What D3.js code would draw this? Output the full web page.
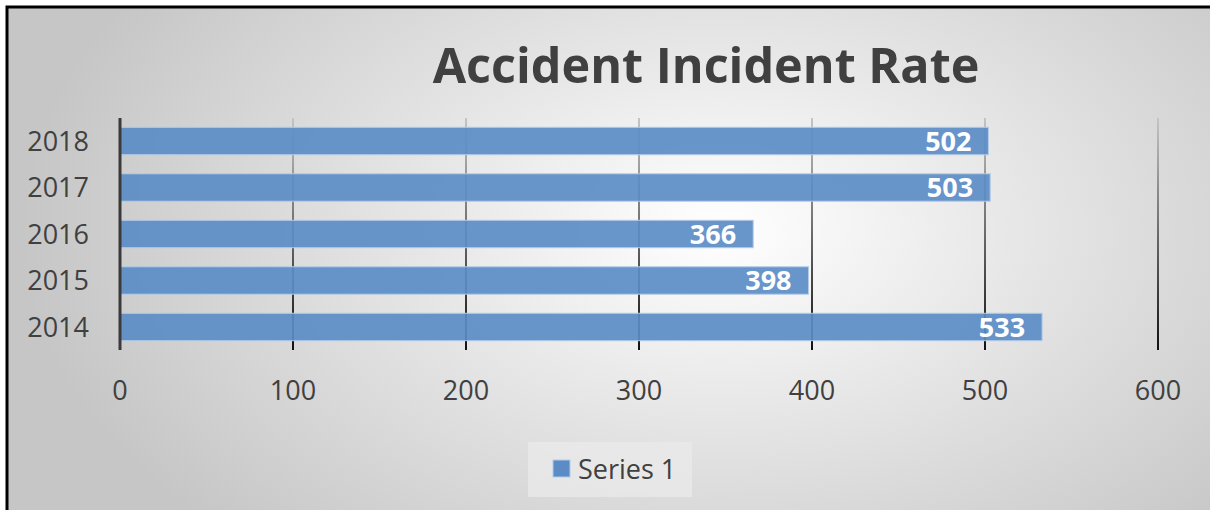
<!DOCTYPE html>
<html>
<head>
<meta charset="utf-8">
<script src="https://cdn.jsdelivr.net/npm/d3@7"></script>
<style>
  body { margin: 0; background: #fff; }
  svg { display: block; }
  text { font-family: "Open Sans", "Noto Sans", sans-serif; }
</style>
</head>
<body>
<div id="chart"></div>
<script>
// chart values
var years = ["2018", "2017", "2016", "2015", "2014"];
var rates = [502, 503, 366, 398, 533];
var ticks = [0, 100, 200, 300, 400, 500, 600];
var seriesName = "Series 1";
var title = "Accident Incident Rate";

var W = 1210, H = 510;
var plot = { left: 120, right: 1158, top: 118, bottom: 350 };

var svg = d3.select("#chart").append("svg")
    .attr("width", W)
    .attr("height", H);

var defs = svg.append("defs");
var bg = defs.append("radialGradient")
    .attr("id", "bg")
    .attr("gradientUnits", "userSpaceOnUse")
    .attr("cx", 0).attr("cy", 0).attr("r", 1)
    .attr("gradientTransform", "translate(720,230) scale(700,430)");
bg.append("stop").attr("offset", "0%").attr("stop-color", "#ffffff");
bg.append("stop").attr("offset", "100%").attr("stop-color", "#c6c6c6");

var grid = defs.append("linearGradient")
    .attr("id", "grid")
    .attr("gradientUnits", "userSpaceOnUse")
    .attr("x1", 0).attr("y1", plot.top).attr("x2", 0).attr("y2", plot.bottom);
grid.append("stop").attr("offset", "0%").attr("stop-color", "#c4c4c4");
grid.append("stop").attr("offset", "100%").attr("stop-color", "#111111");

// background + frame (top/left edge only visible)
svg.append("rect")
    .attr("x", 8).attr("y", 8).attr("width", W).attr("height", H)
    .attr("fill", "url(#bg)");
svg.append("path")
    .attr("d", "M7," + H + "V7H" + W)
    .attr("fill", "none")
    .attr("stroke", "#000")
    .attr("stroke-width", 3);

var x = d3.scaleLinear().domain([0, 600]).range([plot.left, plot.right]);
var y = d3.scaleBand().domain(years).range([plot.top, plot.bottom]).paddingInner(0.41).paddingOuter(0.2);

// gridlines
svg.append("g").selectAll("rect")
    .data(ticks.slice(1))
  .enter().append("rect")
    .attr("x", function(d) { return x(d) - 1; })
    .attr("y", plot.top)
    .attr("width", 2)
    .attr("height", plot.bottom - plot.top)
    .attr("fill", "url(#grid)");

// bars
svg.append("g").selectAll("rect")
    .data(years)
  .enter().append("rect")
    .attr("x", x(0))
    .attr("y", function(d) { return y(d); })
    .attr("width", function(d, i) { return x(rates[i]) - x(0); })
    .attr("height", y.bandwidth())
    .attr("fill", "#5b8cc6")
    .attr("fill-opacity", 0.92)
    .attr("stroke", "#b4cbe8")
    .attr("stroke-width", 1);

// value labels
svg.append("g").selectAll("text")
    .data(years)
  .enter().append("text")
    .attr("x", function(d, i) { return x(rates[i]) - 17; })
    .attr("y", function(d) { return y(d) + y.bandwidth() / 2; })
    .attr("dy", "0.36em")
    .attr("text-anchor", "end")
    .attr("fill", "#fff")
    .attr("font-weight", "bold")
    .attr("font-size", 27)
    .text(function(d, i) { return rates[i]; });

// y axis
svg.append("line")
    .attr("x1", x(0)).attr("x2", x(0))
    .attr("y1", plot.top).attr("y2", plot.bottom)
    .attr("stroke", "#3a3a3a")
    .attr("stroke-width", 3);

svg.append("g").selectAll("text")
    .data(years)
  .enter().append("text")
    .attr("x", 89)
    .attr("y", function(d) { return y(d) + y.bandwidth() / 2; })
    .attr("dy", "0.36em")
    .attr("text-anchor", "end")
    .attr("fill", "#404040")
    .attr("font-size", 27)
    .text(function(d) { return d; });

// x tick labels
svg.append("g").selectAll("text")
    .data(ticks)
  .enter().append("text")
    .attr("x", function(d) { return x(d); })
    .attr("y", 390)
    .attr("dy", "0.36em")
    .attr("text-anchor", "middle")
    .attr("fill", "#404040")
    .attr("font-size", 27)
    .text(function(d) { return d; });

// title, sized to span the same width as the reference
var t = svg.append("text")
    .attr("x", 706)
    .attr("y", 66)
    .attr("dy", "0.36em")
    .attr("text-anchor", "middle")
    .attr("fill", "#404040")
    .attr("font-weight", "bold")
    .attr("font-size", 48)
    .text(title);
var tw = t.node().getComputedTextLength();
t.attr("font-size", 48 * 547 / tw);

// legend
var lg = svg.append("g").attr("transform", "translate(528,442)");
lg.append("rect")
    .attr("width", 164).attr("height", 55)
    .attr("fill", "#ebebeb")
    .attr("fill-opacity", 0.7);
lg.append("rect")
    .attr("x", 25).attr("y", 18).attr("width", 17).attr("height", 17)
    .attr("fill", "#5b8cc6")
    .attr("stroke", "#b4cbe8");
lg.append("text")
    .attr("x", 50).attr("y", 27)
    .attr("dy", "0.36em")
    .attr("fill", "#404040")
    .attr("font-size", 27)
    .text(seriesName);
</script>
</body>
</html>
